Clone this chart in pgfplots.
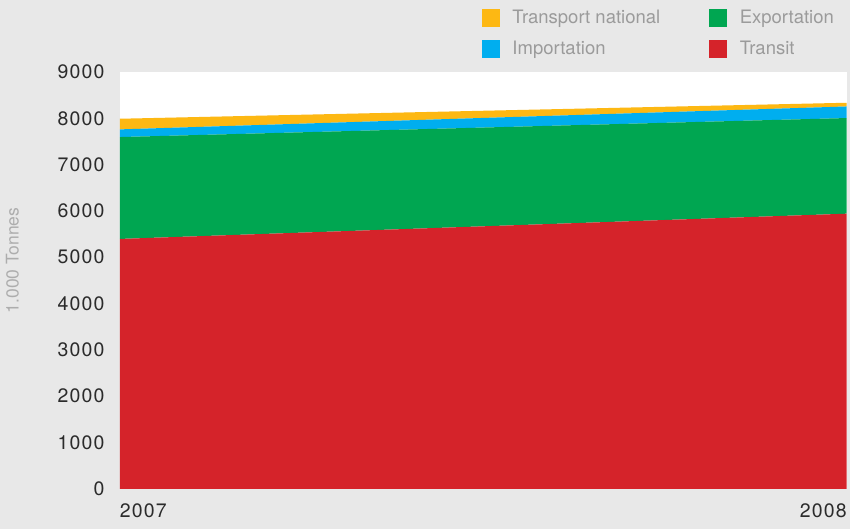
\documentclass[border=0pt]{standalone}
\usepackage{pgfplots}
\pgfplotsset{compat=1.18}
\usepackage{fontspec}
\setmainfont{TeX Gyre Heros}
\newfontfamily\tickfont[LetterSpace=6]{TeX Gyre Heros}
\definecolor{bg}{HTML}{E8E8E8}
\definecolor{cOrange}{HTML}{FDB813}
\definecolor{cBlue}{HTML}{00AEEF}
\definecolor{cGreen}{HTML}{00A651}
\definecolor{cRed}{HTML}{D5232A}
\definecolor{tick}{HTML}{2B2B2B}
\definecolor{leg}{HTML}{9B9B9B}
\definecolor{ylab}{HTML}{ADADAD}
\begin{document}
\begin{tikzpicture}[x=1pt,y=1pt]
\fill[bg] (0,0) rectangle (850,529);
\begin{axis}[
  at={(120pt,40pt)}, anchor=south west,
  width=727pt, height=417pt, scale only axis,
  xmin=2007, xmax=2008, ymin=0, ymax=9000,
  axis line style={draw=none},
  axis background/.style={fill=white},
  tick style={draw=none},
  xtick={2007,2008},
  xticklabels={\makebox[0pt][l]{2007},\makebox[0pt][r]{2008}},
  ytick={0,1000,...,9000},
  /pgf/number format/assume math mode=true,
  /pgf/number format/1000 sep={},
  ticklabel style={font=\tickfont\fontsize{19.5}{22}\selectfont, text=tick},
  xticklabel style={anchor=north, yshift=-11pt},
  yticklabel style={anchor=east, xshift=-12pt},
  ylabel={1.000 Tonnes},
  ylabel style={at={(axis description cs:-0.148,0.548)}, anchor=center, rotate=0,
    font=\fontsize{17.5}{20}\selectfont, text=ylab},
  stack plots=y,
  legend style={at={(axis description cs:0.498,1.152)}, anchor=north west,
    draw=none, fill=none, inner sep=0pt, row sep=14pt,
    font=\fontsize{18.5}{21}\selectfont, text=leg,
    nodes={inner sep=0pt, text height=13pt, text depth=2pt},
    /tikz/every odd column/.style={column sep=13pt}},
  legend columns=2,
  legend cell align=left,
]
\addplot[draw=none, fill=cRed, forget plot] coordinates {(2007,5395) (2008,5940)} \closedcycle;
\addplot[draw=none, fill=cGreen, forget plot] coordinates {(2007,2200) (2008,2065)} \closedcycle;
\addplot[draw=none, fill=cBlue, forget plot] coordinates {(2007,165) (2008,250)} \closedcycle;
\addplot[draw=none, fill=cOrange, forget plot] coordinates {(2007,230) (2008,80)} \closedcycle;
\addlegendimage{legend image code/.code={\fill[cOrange] (0pt,-8pt) rectangle (17pt,9pt);}}
\addlegendentry{\makebox[197pt][l]{Transport national}}
\addlegendimage{legend image code/.code={\fill[cGreen] (0pt,-8pt) rectangle (17pt,9pt);}}
\addlegendentry{Exportation}
\addlegendimage{legend image code/.code={\fill[cBlue] (0pt,-8pt) rectangle (17pt,9pt);}}
\addlegendentry{\makebox[197pt][l]{Importation}}
\addlegendimage{legend image code/.code={\fill[cRed] (0pt,-8pt) rectangle (17pt,9pt);}}
\addlegendentry{Transit}
\end{axis}
\end{tikzpicture}
\end{document}
